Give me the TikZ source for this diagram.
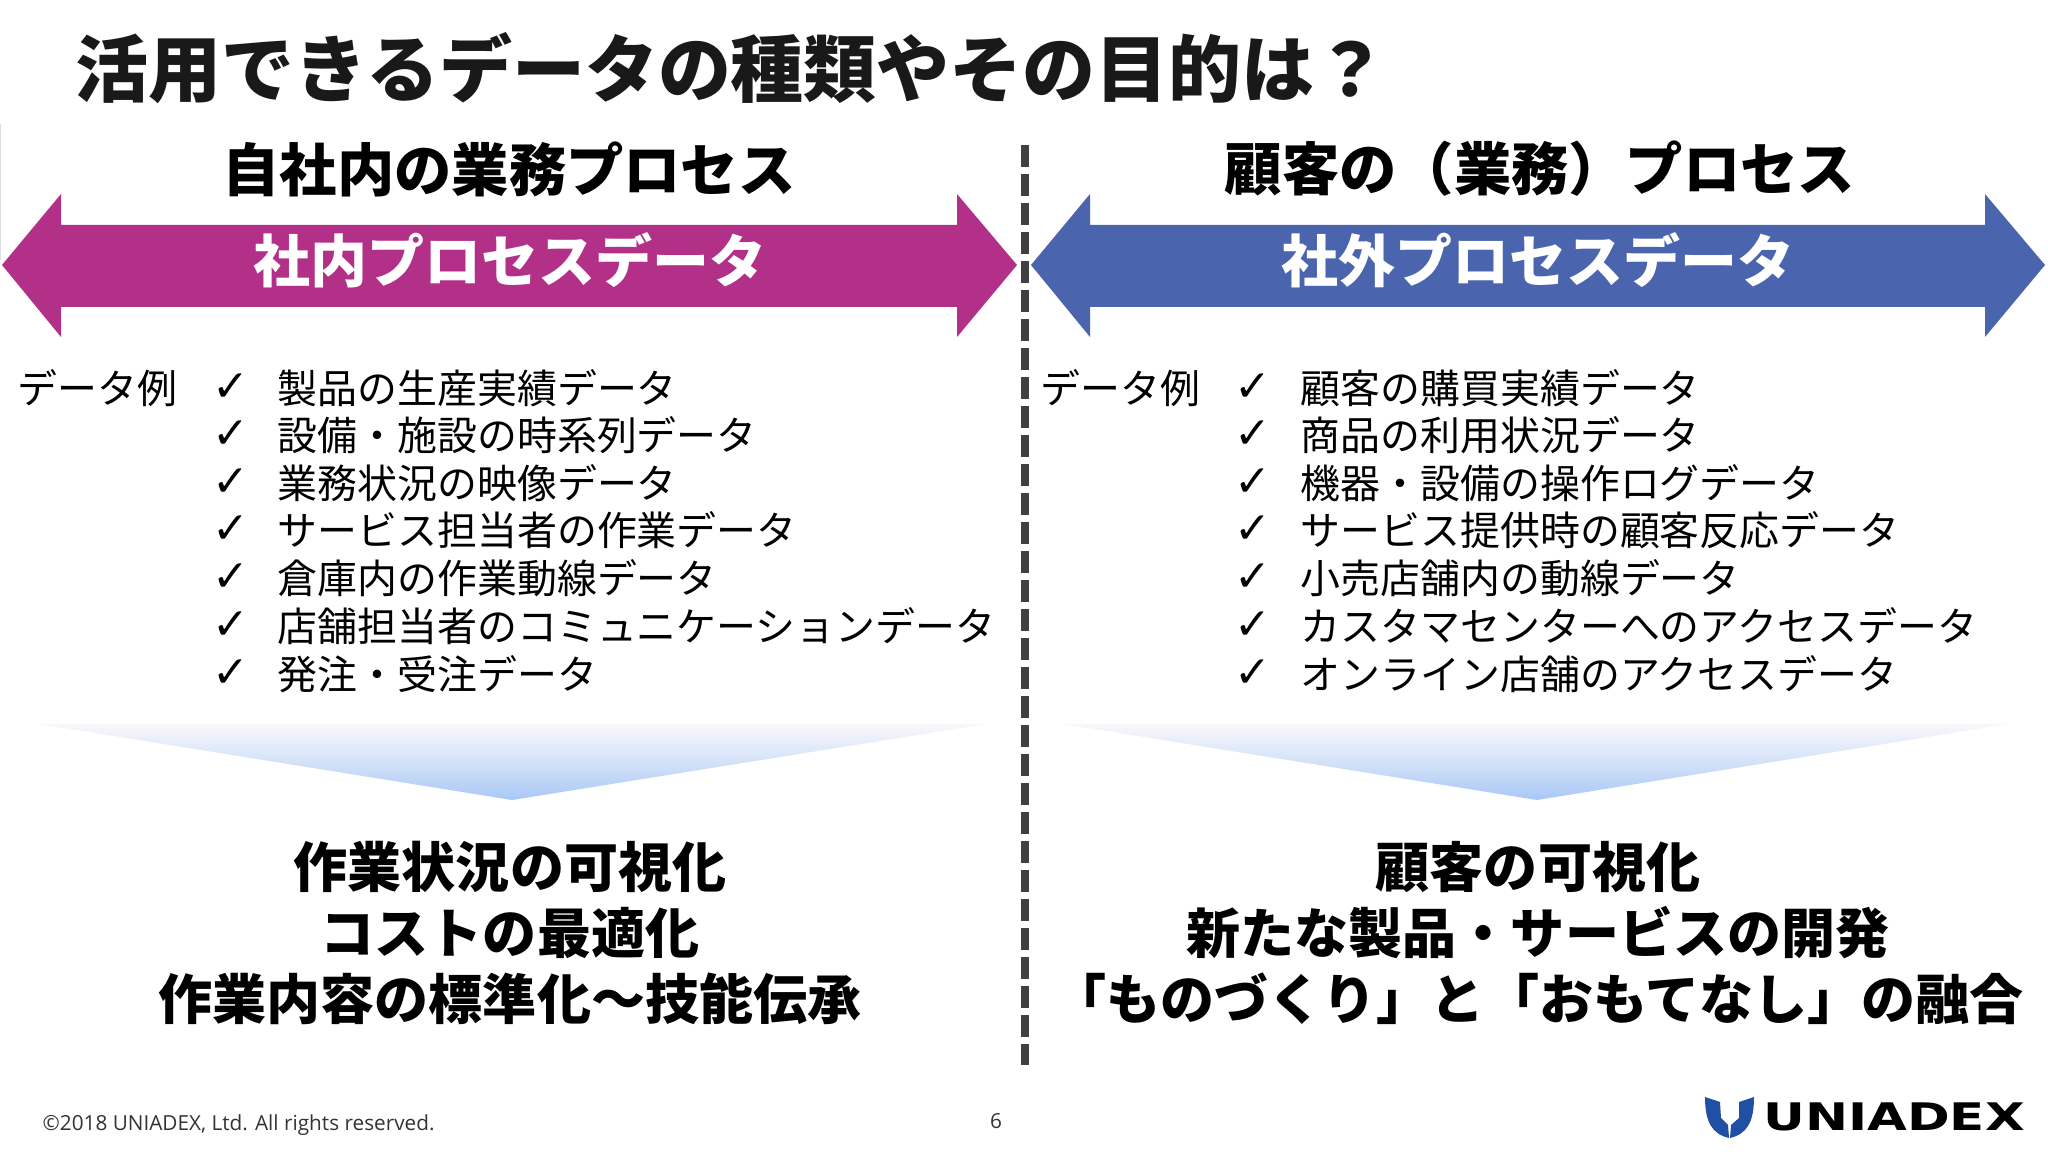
\documentclass[tikz,border=0pt]{standalone}
\usepackage{fontspec}
\setmainfont{Noto Sans CJK JP}
\newfontfamily\footfont{Open Sans}
\newfontfamily\symfont{DejaVu Sans}
\usepackage{tikz}
\usetikzlibrary{positioning}
\definecolor{inmagenta}{HTML}{B23088}
\definecolor{outblue}{HTML}{4A65AE}
\definecolor{logoblue}{HTML}{2050A5}
\definecolor{divgray}{HTML}{404040}
\definecolor{fadetop}{HTML}{FAF7FB}
\definecolor{fademid}{HTML}{D3E2F8}
\definecolor{fadebot}{HTML}{A9C7F6}

\begin{document}
\begin{tikzpicture}[x=.01cm,y=-.01cm,
		titletext/.style={font=\fontsize{20.75}{24}\selectfont\bfseries,text=black!90,inner sep=0pt},
		headtext/.style={font=\fontsize{16.3}{20}\selectfont\bfseries,inner sep=0pt},
		arrowtext/.style={font=\fontsize{16.2}{20}\selectfont\bfseries,text=white,inner sep=0pt},
		itemtext/.style={font=\fontsize{11.35}{14}\selectfont,anchor=west,inner sep=0pt},
		checkmark/.style={font=\fontsize{12.5}{14}\selectfont\symfont\bfseries,inner sep=0pt},
		goaltext/.style={font=\fontsize{15.37}{18.65}\selectfont\bfseries,align=center,inner sep=0pt},
		foottext/.style={font=\fontsize{5.9}{7}\selectfont\footfont,text=black!80,inner sep=0pt},
		fadearrow/.style={top color=fadetop,bottom color=fadebot,middle color=fademid}]
	\useasboundingbox (0,0) rectangle (2048,1152);
	\node[titletext,anchor=west] (title) at (75,68) {活用できるデータの種類やその目的は？};
	\draw[gray!25,line width=.5pt] (.5,124) -- (.5,260);
	% divider
	\coordinate (divtop) at (1025,145);
	\coordinate (divbot) at (1025,1065);
	\draw[divgray,line width=2pt,dash pattern=on 6.2pt off 2.05pt] (divtop) -- (divbot);
	% left side
	\node[headtext] (lefthead) at (509,169) {自社内の業務プロセス};
	\fill[inmagenta] (2,265) -- (61,194) -- (61,225) -- (957,225) -- (957,194) -- (1017,265) -- (957,337) -- (957,307) -- (61,307) -- (61,337) -- cycle;
	\node[arrowtext] (leftarrow) at (510,260) {社内プロセスデータ};
	\node[itemtext] (leftex) at (17,388) {データ例};
	\foreach \n/\y/\txt in {1/388/製品の生産実績データ,2/435/設備・施設の時系列データ,3/483/業務状況の映像データ,
			4/530/サービス担当者の作業データ,5/578/倉庫内の作業動線データ,6/626/店舗担当者のコミュニケーションデータ,7/674/発注・受注データ}{
		\node[checkmark] (leftcheck\n) at (231,\y) {✓};
		\node[itemtext] (leftitem\n) at (277,\y) {\txt};
	}
	\shade[fadearrow] (39,724) -- (986,724) -- (512,800) -- cycle;
	\node[goaltext] (leftgoal) at (510,933) {作業状況の可視化\\コストの最適化\\作業内容の標準化〜技能伝承};
	% right side
	\node[headtext] (righthead) at (1540,169) {顧客の（業務）プロセス};
	\fill[outblue] (1031,265) -- (1090,194) -- (1090,225) -- (1985,225) -- (1985,194) -- (2045,265) -- (1985,337) -- (1985,307) -- (1090,307) -- (1090,337) -- cycle;
	\node[arrowtext] (rightarrow) at (1538,260) {社外プロセスデータ};
	\node[itemtext] (rightex) at (1040,388) {データ例};
	\foreach \n/\y/\txt in {1/388/顧客の購買実績データ,2/435/商品の利用状況データ,3/483/機器・設備の操作ログデータ,
			4/530/サービス提供時の顧客反応データ,5/578/小売店舗内の動線データ,6/626/カスタマセンターへのアクセスデータ,7/674/オンライン店舗のアクセスデータ}{
		\node[checkmark] (rightcheck\n) at (1253,\y) {✓};
		\node[itemtext] (rightitem\n) at (1300,\y) {\txt};
	}
	\shade[fadearrow] (1063,724) -- (2008,724) -- (1537,800) -- cycle;
	\node[goaltext] (rightgoal) at (1538,933) {顧客の可視化\\新たな製品・サービスの開発\\「ものづくり」と「おもてなし」の融合};
	% footer
	\node[foottext,anchor=west] (copyright) at (42,1125) {©2018 UNIADEX, Ltd. All rights reserved.};
	\node[foottext] (pageno) at (996,1121) {6};
	\fill[logoblue] (1705,1097) -- (1720,1102) -- (1721,1118) -- (1728,1125) -- (1729,1138) .. controls (1712,1134) and (1705,1122) .. cycle;
	\fill[logoblue] (1754,1097) -- (1739,1102) -- (1739,1118) -- (1731,1125) -- (1730,1138) .. controls (1747,1134) and (1754,1122) .. cycle;
	\node[inner sep=0pt,xscale=1.355,font=\fontsize{10.8}{13}\selectfont\symfont\bfseries] (logotext) at (1894,1117) {UNIADEX};
\end{tikzpicture}
\end{document}
